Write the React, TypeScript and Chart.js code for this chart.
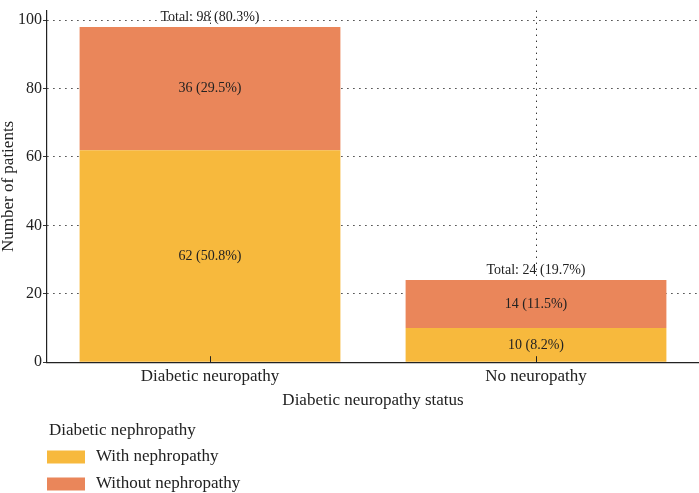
import React, { useEffect, useRef } from "react";
import { Chart, registerables } from "chart.js";

Chart.register(...registerables);

const categories = ["Diabetic neuropathy", "No neuropathy"];
const withNephropathy = [62, 10];
const withoutNephropathy = [36, 14];
const seriesLabels = ["With nephropathy", "Without nephropathy"];
const seriesColors = ["#F7B93D", "#EA865A"];
const yTicks = [0, 20, 40, 60, 80, 100];
const legendTitle = "Diabetic nephropathy";

const FONT = "'Liberation Serif', 'DejaVu Serif', serif";
const INK = "#222";
const DOTS = [1.4, 4.6];

const totals = categories.map((_, i) => withNephropathy[i] + withoutNephropathy[i]);
const grandTotal = totals.reduce((a, b) => a + b, 0);
const pct = (v: number) => ((v / grandTotal) * 100).toFixed(1);

// Segment values, totals and the inward category ticks
const labelPlugin = {
  id: "barLabels",
  afterDatasetsDraw(chart: any) {
    const { ctx } = chart;
    ctx.save();
    ctx.fillStyle = INK;
    ctx.font = `14px ${FONT}`;
    ctx.textAlign = "center";
    ctx.textBaseline = "middle";
    chart.data.datasets.forEach((ds: any, di: number) => {
      const meta = chart.getDatasetMeta(di);
      meta.data.forEach((el: any, i: number) => {
        const v = ds.data[i];
        ctx.fillText(`${v} (${pct(v)}%)`, el.x, (el.y + el.base) / 2);
      });
    });
    const last = chart.getDatasetMeta(chart.data.datasets.length - 1);
    last.data.forEach((el: any, i: number) => {
      ctx.textBaseline = "bottom";
      ctx.fillText(`Total: ${totals[i]} (${pct(totals[i])}%)`, el.x, el.y - 3);
    });
    // small ticks pointing up from the x axis
    const xScale = chart.scales.x;
    const bottom = chart.chartArea.bottom;
    ctx.strokeStyle = INK;
    ctx.lineWidth = 1;
    categories.forEach((_, i) => {
      const x = Math.round(xScale.getPixelForValue(i)) + 0.5;
      ctx.beginPath();
      ctx.moveTo(x, bottom);
      ctx.lineTo(x, bottom - 6);
      ctx.stroke();
    });
    ctx.restore();
  },
};

// Vertical legend under the axis title
const legendPlugin = {
  id: "stackLegend",
  afterDraw(chart: any) {
    const { ctx } = chart;
    const left = chart.chartArea.left;
    ctx.save();
    ctx.fillStyle = INK;
    ctx.font = `17px ${FONT}`;
    ctx.textAlign = "left";
    ctx.textBaseline = "middle";
    ctx.fillText(legendTitle, left + 2, 431);
    chart.data.datasets.forEach((ds: any, i: number) => {
      const cy = 457 + i * 27;
      ctx.fillStyle = ds.backgroundColor;
      ctx.fillRect(left, cy - 6.5, 38, 13);
      ctx.fillStyle = INK;
      ctx.fillText(ds.label, left + 49, cy);
    });
    ctx.restore();
  },
};

export default function App() {
  const canvasRef = useRef<HTMLCanvasElement>(null);

  useEffect(() => {
    if (!canvasRef.current) return;
    const chart = new Chart(canvasRef.current, {
      type: "bar",
      data: {
        labels: categories,
        datasets: [
          {
            label: seriesLabels[0],
            data: withNephropathy,
            backgroundColor: seriesColors[0],
            categoryPercentage: 1,
            barPercentage: 0.8,
          },
          {
            label: seriesLabels[1],
            data: withoutNephropathy,
            backgroundColor: seriesColors[1],
            categoryPercentage: 1,
            barPercentage: 0.8,
          },
        ],
      },
      options: {
        animation: false,
        responsive: false,
        maintainAspectRatio: false,
        layout: { padding: { top: 1, right: 0, bottom: 82, left: 0 } },
        plugins: {
          legend: { display: false },
          tooltip: { enabled: false },
        },
        scales: {
          x: {
            stacked: true,
            grid: {
              offset: false,
              drawTicks: false,
              color: "#333",
              lineWidth: 1,
            },
            border: { display: true, color: INK, width: 1.2, dash: DOTS },
            ticks: {
              color: INK,
              font: { family: FONT, size: 17 },
              padding: 4,
            },
            title: {
              display: true,
              text: "Diabetic neuropathy status",
              color: INK,
              font: { family: FONT, size: 17 },
              padding: { top: 0, bottom: 0 },
            },
          },
          y: {
            stacked: true,
            min: 0,
            max: 102.8,
            afterBuildTicks(scale: any) {
              scale.ticks = yTicks.map((v) => ({ value: v }));
            },
            grid: {
              color: "#333",
              lineWidth: 1,
              tickLength: 4,
              tickColor: "#333",
            },
            border: { display: true, color: INK, width: 1.2, dash: DOTS },
            ticks: {
              color: INK,
              font: { family: FONT, size: 16 },
              padding: 1,
            },
            title: {
              display: true,
              text: "Number of patients",
              color: INK,
              font: { family: FONT, size: 17, lineHeight: 1 },
              padding: { top: 0, bottom: 0 },
            },
          },
        },
      },
      plugins: [labelPlugin, legendPlugin],
    });
    return () => chart.destroy();
  }, []);

  return (
    <div style={{ position: "fixed", left: 0, top: 0, width: 699, height: 493, background: "#fff" }}>
      <canvas ref={canvasRef} width={699} height={493} style={{ display: "block" }} />
    </div>
  );
}
